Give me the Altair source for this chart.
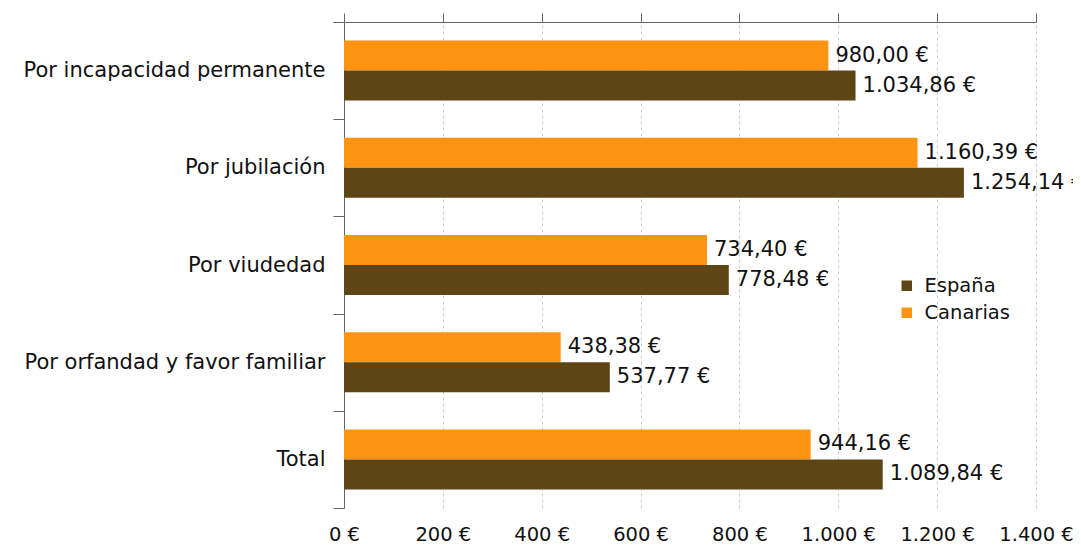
import altair as alt
import pandas as pd

categories = ["Por incapacidad permanente", "Por jubilación", "Por viudedad",
              "Por orfandad y favor familiar", "Total"]
espana = [1034.86, 1254.14, 778.48, 537.77, 1089.84]
canarias = [980.00, 1160.39, 734.40, 438.38, 944.16]
series = ["España", "Canarias"]
colors = ["#5e4516", "#ff9412"]
x_ticks = [0, 200, 400, 600, 800, 1000, 1200, 1400]


def fmt(v):
    s = f"{v:,.2f}"
    return s.replace(",", "#").replace(".", ",").replace("#", ".") + " €"


rows = []
for c, e, k in zip(categories, espana, canarias):
    rows.append({"cat": c, "serie": "Canarias", "value": k, "label": fmt(k)})
    rows.append({"cat": c, "serie": "España", "value": e, "label": fmt(e)})
df = pd.DataFrame(rows)

FONT = "DejaVu Sans"
xscale = alt.Scale(domain=[0, 1400], nice=False, zero=True)
yenc = alt.Y("cat:N", sort=categories, title=None,
             scale=alt.Scale(paddingInner=0, paddingOuter=0),
             axis=alt.Axis(tickBand="extent", tickSize=11, labelPadding=8,
                           labelFontSize=21, labelFont=FONT, labelColor="#111",
                           labelLimit=500, domainColor="#666", tickColor="#666",
                           grid=False))
yoff = alt.YOffset("serie:N", sort=["Canarias", "España"],
                   scale=alt.Scale(paddingInner=0, paddingOuter=0.62))
color = alt.Color("serie:N", scale=alt.Scale(domain=series, range=colors),
                  legend=alt.Legend(title=None, orient="none", legendX=553, legendY=254,
                                    symbolType="square", symbolSize=110,
                                    labelFontSize=19.5, labelFont=FONT, labelColor="#111",
                                    rowPadding=6, padding=0, symbolStrokeWidth=0,
                                    labelOffset=8))

bars = alt.Chart(df).mark_bar().encode(
    x=alt.X("value:Q", scale=xscale, title=None,
            axis=alt.Axis(orient="bottom", values=x_ticks, domain=False, ticks=False,
                          labelPadding=17, labelFontSize=19.5, labelFont=FONT,
                          labelColor="#111", labelOverlap=False, labelFlush=False,
                          labelExpr="replace(format(datum.value, ',.0f'), ',', '.') + ' €'",
                          grid=True, gridDash=[3, 3], gridColor="#cccccc")),
    y=yenc, yOffset=yoff, color=color,
)

text = alt.Chart(df).mark_text(align="left", baseline="middle", dx=7, fontSize=21,
                               font=FONT, color="#111").encode(
    x=alt.X("value:Q", scale=xscale, axis=None),
    y=yenc, yOffset=yoff, text="label:N",
)

top_axis = alt.Chart(df).mark_bar(opacity=0).encode(
    x=alt.X("value:Q", scale=xscale, title=None,
            axis=alt.Axis(orient="top", values=x_ticks, labels=False, ticks=True,
                          tickSize=9, domain=True, domainColor="#666", offset=0,
                          tickColor="#666", grid=False)),
    y=yenc, yOffset=yoff,
)

chart = alt.layer(bars, text, top_axis).resolve_axis(x="independent").properties(
    width=692, height=486,
    autosize=alt.AutoSizeParams(type="none"),
    padding={"left": 336, "top": 14, "right": 37, "bottom": 36},
).configure_view(stroke=None)

chart.save("out.html", embed_options={"renderer": "svg", "actions": False})
